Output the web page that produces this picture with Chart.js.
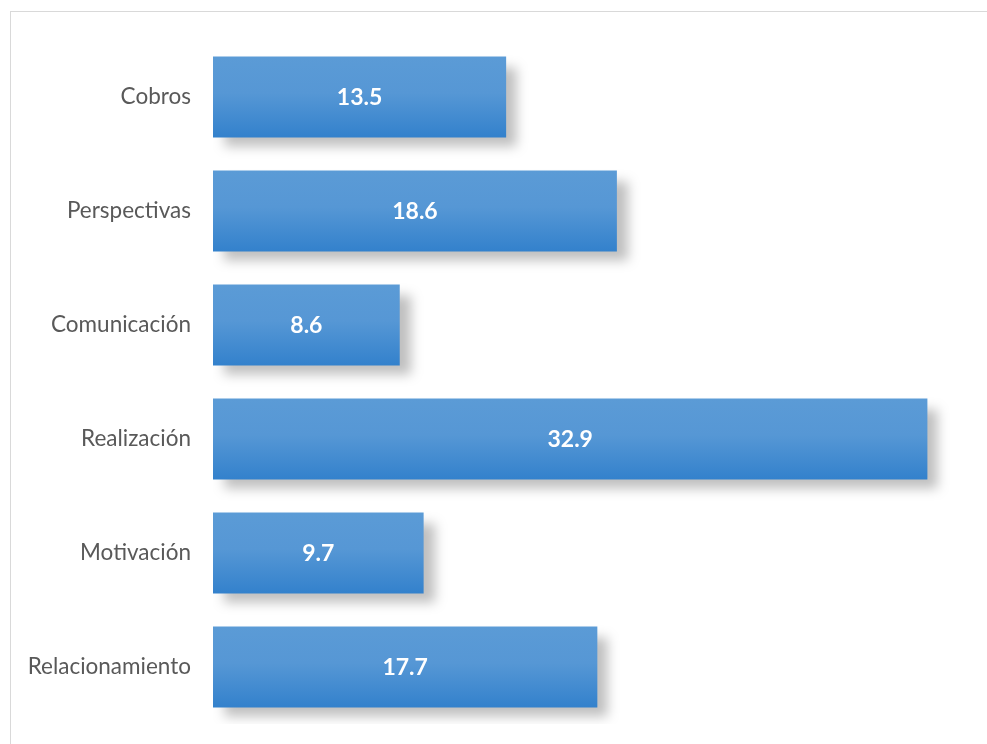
<!DOCTYPE html>
<html>
<head>
<meta charset="utf-8">
<script src="https://cdn.jsdelivr.net/npm/chart.js@4"></script>
<style>
  body { margin: 0; background: #fff; }
  #wrap { position: relative; width: 987px; height: 744px; }
  #frame { position: absolute; left: 10px; top: 11px; right: 0; bottom: 0;
           border-left: 1px solid #d9d9d9; border-top: 1px solid #d9d9d9; }
  canvas { position: absolute; left: 0; top: 0; }
</style>
</head>
<body>
<div id="wrap">
  <div id="frame"></div>
  <canvas id="chart" width="987" height="744"></canvas>
</div>
<script>
'use strict';

var categories = ['Cobros', 'Perspectivas', 'Comunicación', 'Realización', 'Motivación', 'Relacionamiento'];
var values = [13.5, 18.6, 8.6, 32.9, 9.7, 17.7];

var barPct = 0.71;

// vertical gradient for each bar
function barGradient(context) {
  var chart = context.chart;
  var yScale = chart.scales.y;
  if (!chart.chartArea || !yScale || context.dataIndex === undefined) return '#4a8fd2';
  var center = yScale.getPixelForValue(context.dataIndex);
  var half = yScale.height / categories.length * barPct / 2;
  if (!isFinite(center) || !isFinite(half)) return '#4a8fd2';
  var g = chart.ctx.createLinearGradient(0, center - half, 0, center + half);
  g.addColorStop(0, '#5b9bd6');
  g.addColorStop(0.45, '#5697d5');
  g.addColorStop(1, '#3381cc');
  return g;
}

var shadowPlugin = {
  id: 'barShadow',
  beforeDatasetsDraw: function(chart) {
    var ctx = chart.ctx;
    ctx.save();
    ctx.shadowColor = 'rgba(0,0,0,0.25)';
    ctx.shadowBlur = 11;
    ctx.shadowOffsetX = 11;
    ctx.shadowOffsetY = 10;
  },
  afterDatasetsDraw: function(chart) {
    chart.ctx.restore();
  }
};

// white value labels in the middle of each bar
var valueLabels = {
  id: 'valueLabels',
  afterDatasetsDraw: function(chart) {
    var ctx = chart.ctx;
    var meta = chart.getDatasetMeta(0);
    ctx.save();
    ctx.fillStyle = '#ffffff';
    ctx.font = 'bold 23px Lato';
    ctx.textAlign = 'center';
    ctx.textBaseline = 'middle';
    meta.data.forEach(function(bar, i) {
      var mid = (bar.x + bar.base) / 2;
      ctx.fillText(values[i].toFixed(1), mid, bar.y + 1);
    });
    ctx.restore();
  }
};

var canvas = document.getElementById('chart').getContext('2d');

var chart = new Chart(canvas, {
  type: 'bar',
  data: {
    labels: categories,
    datasets: [{
      data: values,
      backgroundColor: barGradient,
      borderWidth: 0,
      barPercentage: barPct,
      categoryPercentage: 1
    }]
  },
  options: {
    indexAxis: 'y',
    responsive: false,
    animation: false,
    layout: { padding: { top: 40, bottom: 20, right: 14, left: 0 } },
    plugins: {
      legend: { display: false },
      tooltip: { enabled: false }
    },
    scales: {
      x: {
        display: false,
        min: 0,
        max: 35
      },
      y: {
        grid: { display: false, drawTicks: false },
        border: { display: false },
        ticks: {
          color: '#595959',
          padding: 22,
          font: { family: 'Lato', size: 22.5 }
        },
        afterFit: function(scale) {
          scale.width = 213;
          scale.paddingTop = 0;
          scale.paddingBottom = 0;
        }
      }
    }
  },
  plugins: [shadowPlugin, valueLabels]
});
</script>
</body>
</html>
